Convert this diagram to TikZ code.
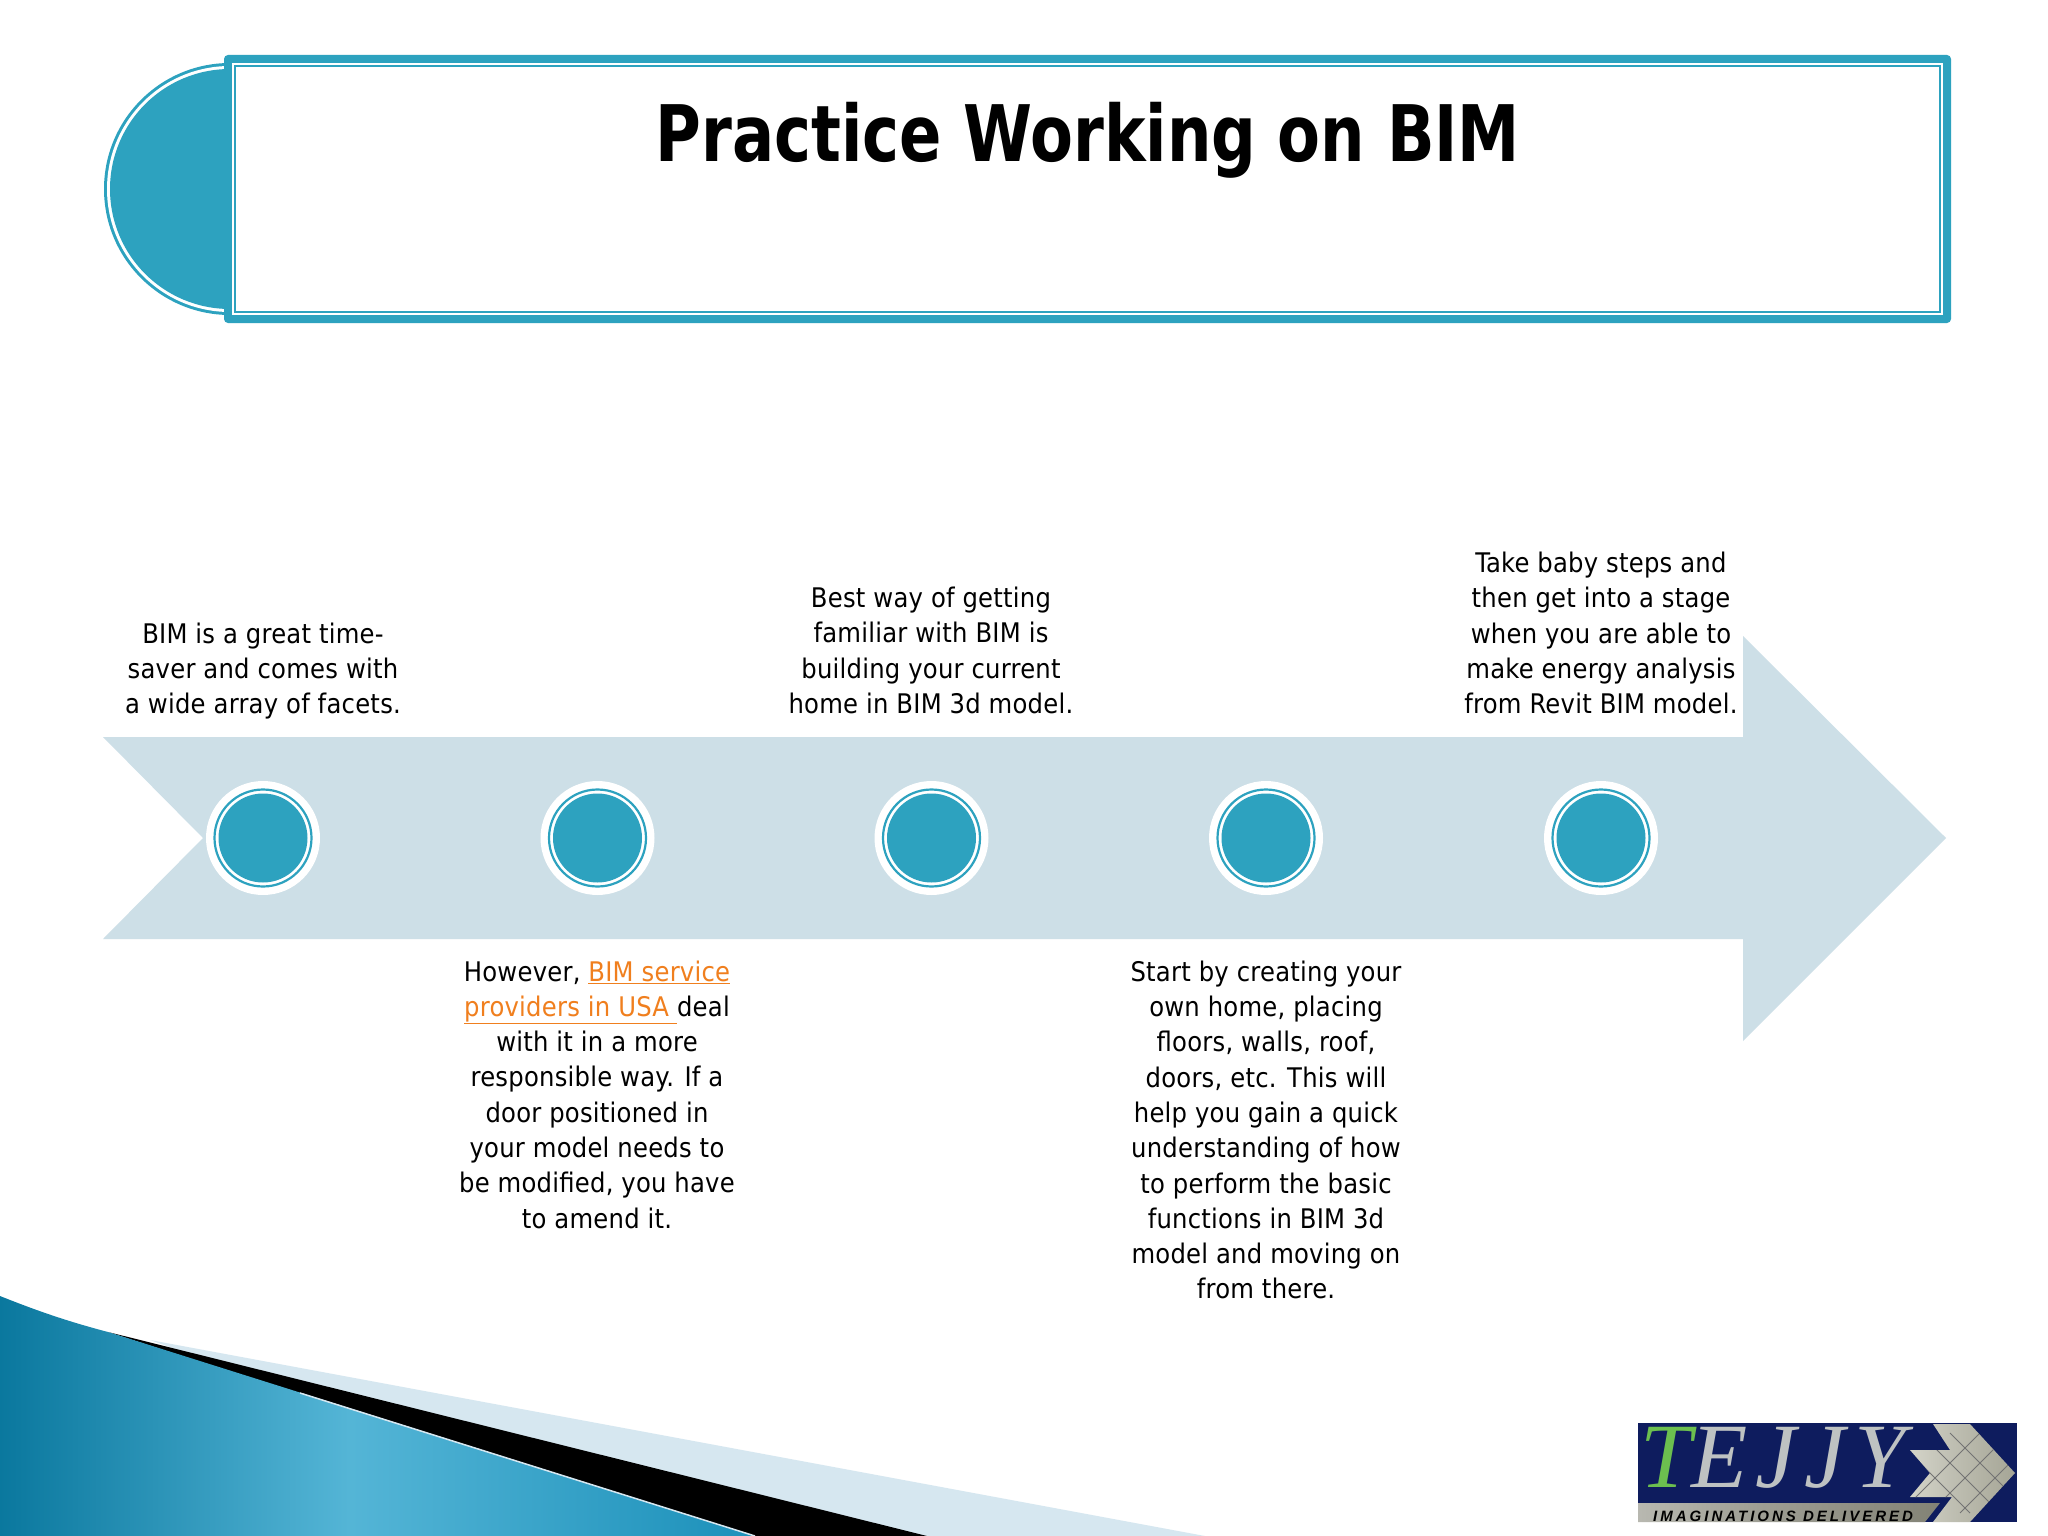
\documentclass[tikz,border=0pt]{standalone}
\usepackage{fontspec}
\setmainfont[LetterSpace=0.9]{DejaVu Sans Condensed}
\newfontfamily\titlefont[FakeStretch=0.89]{DejaVu Sans Condensed}
\newfontfamily\logoserif[LetterSpace=9]{Liberation Serif}
\newfontfamily\logosans[LetterSpace=20]{Liberation Sans}
\definecolor{teal}{HTML}{2DA2BF}
\definecolor{band}{HTML}{CDDFE7}
\definecolor{pale}{HTML}{D6E7F0}
\definecolor{linkc}{HTML}{F07F1E}
\definecolor{navy}{HTML}{0E1C5E}
\definecolor{silver}{HTML}{BEC2C2}
\definecolor{logogreen}{HTML}{6CBF4F}
\pgfdeclarehorizontalshading{swooshb}{100bp}{rgb(0bp)=(0.0,0.40,0.52);rgb(25bp)=(0.04,0.47,0.62);rgb(48bp)=(0.33,0.71,0.84);rgb(72bp)=(0.13,0.58,0.74);rgb(100bp)=(0.04,0.50,0.66)}
\pgfdeclarehorizontalshading{metal}{100bp}{rgb(0bp)=(0.85,0.85,0.83);rgb(45bp)=(0.62,0.62,0.58);rgb(100bp)=(0.42,0.42,0.36)}
\pgfdeclarehorizontalshading{chev}{100bp}{rgb(0bp)=(0.95,0.95,0.92);rgb(45bp)=(0.75,0.75,0.70);rgb(100bp)=(0.55,0.55,0.48)}
\tikzset{
  x=1pt,y=-1pt,
  body/.style={align=center,inner sep=0pt,font=\fontsize{27}{35.3}\selectfont,text=black},
  halo/.style={circle,fill=white,draw=none,minimum size=114pt,inner sep=0pt},
  ring/.style={circle,fill=none,draw=teal,line width=2.2pt,minimum size=97pt,inner sep=0pt},
  disc/.style={circle,fill=teal,draw=none,minimum size=89pt,inner sep=0pt},
}
\begin{document}
\begin{tikzpicture}
\useasboundingbox (0,0) rectangle (2048,1536);
\fill[white] (0,0) rectangle (2048,1536);
% corner swoosh
\fill[pale] (150,1340) -- (1205,1536) -- (700,1536) -- cycle;
\fill[black] (108,1332) -- (927,1536) -- (740,1536) -- cycle;
\begin{scope}
\clip (0,1296) .. controls (40,1312) and (70,1322) .. (108,1332) -- (755,1536) -- (0,1536) -- cycle;
\shade[shading=swooshb] (0,1290) rectangle (760,1536);
\end{scope}
\draw[pale,line width=1.5pt] (300,1393) -- (755,1536);
% title
\fill[teal] (230,63) arc (270:90:126) -- cycle;
\fill[white] (230,66) arc (270:90:123) -- cycle;
\fill[teal] (230,69) arc (270:90:120) -- cycle;
\fill[teal,rounded corners=4pt] (224,55) rectangle (1951,323);
\fill[white] (232,63) rectangle (1943,315);
\draw[teal,line width=2.5pt] (235,66) rectangle (1940,312);
\node[anchor=base,inner sep=0pt,font=\fontsize{78}{90}\titlefont\bfseries] (title) at (1088,161) {Practice Working on BIM};
% arrow
\fill[band] (103,737) -- (1743,737) -- (1743,636) -- (1946,838) -- (1743,1041) -- (1743,939) -- (103,939) -- (203,838) -- cycle;
\foreach \n/\x in {a/263,b/597.5,c/931.5,d/1266,e/1601}{
  \node[halo] (h\n) at (\x,838) {};
  \node[ring] (r\n) at (\x,838) {};
  \node[disc] (d\n) at (\x,838) {};
}
% texts
\node[body] (ta) at (263,671) {BIM is a great time-\\saver and comes with\\a wide array of facets.};
\node[body] (tb) at (597,1094.5) {However, \textcolor{linkc}{\underline{BIM service}}\\\textcolor{linkc}{\underline{providers in USA\ }}deal\\with it in a more\\responsible way. If a\\door positioned in\\your model needs to\\be modified, you have\\to amend it.};
\node[body] (tc) at (931,650.5) {Best way of getting\\familiar with BIM is\\building your current\\home in BIM 3d model.};
\node[body] (td) at (1266,1130) {Start by creating your\\own home, placing\\floors, walls, roof,\\doors, etc. This will\\help you gain a quick\\understanding of how\\to perform the basic\\functions in BIM 3d\\model and moving on\\from there.};
\node[body] (te) at (1601,633) {Take baby steps and\\then get into a stage\\when you are able to\\make energy analysis\\from Revit BIM model.};
% logo
\fill[navy] (1638,1423) rectangle (2017,1522);
\shade[shading=metal] (1638,1503) -- (1940,1503) -- (1925,1522) -- (1638,1522) -- cycle;
\begin{scope}
\clip (1933,1424) -- (1970,1424) -- (2015,1473) -- (1970,1522) -- (1933,1522) -- (1952,1497) -- (1910,1497) -- (1930,1473) -- (1910,1450) -- (1950,1450) -- cycle;
\shade[shading=chev] (1905,1420) rectangle (2020,1525);
\foreach \s in {-40,-10,20,50}{\draw[black!55,line width=1pt] (1930+\s,1473-40) -- ++(80,80);}
\foreach \s in {-30,0,30,60}{\draw[black!55,line width=1pt] (1930+\s,1473+40) -- ++(80,-80);}
\end{scope}
\node[anchor=base west,inner sep=0pt,font=\fontsize{92}{100}\logoserif\itshape,text=silver] (logoname) at (1640,1487) {\textcolor{logogreen}{T}EJJY};
\node[anchor=base west,inner sep=0pt,font=\fontsize{15}{18}\logosans\bfseries\itshape,text=black] (logotag) at (1653,1521) {IMAGINATIONS DELIVERED};
\end{tikzpicture}
\end{document}
